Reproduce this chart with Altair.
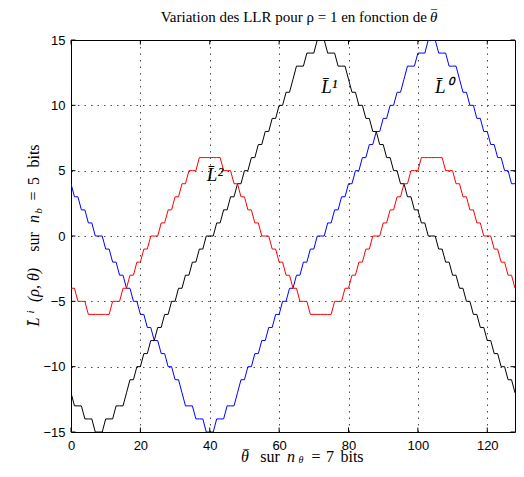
import altair as alt
import pandas as pd

# ---------------- data ----------------
theta = list(range(129))

L0 = [4, 3, 3, 2, 2, 1, 1, 0, 0,
      0, -1, -1, -2, -2, -3, -3, -4, -4, -5, -5, -6, -6, -7, -7, -8, -8, -9, -9, -10, -10,
      -11, -11, -12, -13, -13, -13, -14, -14, -14, -15, -15,
      -15, -14, -14, -14, -13, -13, -13, -12, -11, -11, -10, -10, -9, -9, -8, -8, -7, -7,
      -6, -6, -5, -5, -4, -4, -3, -3, -2, -2, -1, -1, 0, 0,
      0, 1, 1, 2, 2, 3, 3, 4, 4, 5, 5, 6, 6, 7, 7, 8, 8, 9, 9, 10, 10, 11, 11, 12,
      13, 13, 13, 14, 14, 14, 15, 15,
      15, 14, 14, 14, 13, 13, 13, 12, 11, 11, 10, 10, 9, 9, 8, 8, 7, 7, 6, 6, 5, 5, 4, 4]

L1 = [-12, -13, -13, -13, -14, -14, -14, -15, -15,
      -15, -14, -14, -14, -13, -13, -13, -12, -11, -11, -10, -10, -9, -9, -8, -8, -7, -7,
      -6, -6, -5, -5, -4, -4, -3, -3, -2, -2, -1, -1, 0, 0,
      0, 1, 1, 2, 2, 3, 3, 4, 4, 5, 5, 6, 6, 7, 7, 8, 8, 9, 9, 10, 10, 11, 11, 12,
      13, 13, 13, 14, 14, 14, 15, 15,
      15, 14, 14, 14, 13, 13, 13, 12, 11, 11, 10, 10, 9, 9, 8, 8, 7, 7, 6, 6, 5, 5,
      4, 4, 3, 3, 2, 2, 1, 1, 0, 0,
      0, -1, -1, -2, -2, -3, -3, -4, -4, -5, -5, -6, -6, -7, -7, -8, -8, -9, -9,
      -10, -10, -11, -11, -12]

L2 = [-4, -4, -5, -5, -5, -6, -6, -6, -6,
      -6, -6, -6, -5, -5, -5, -4, -4, -3, -3, -2, -2, -1, -1, 0, 0,
      0, 1, 1, 2, 2, 3, 3, 4, 4, 5, 5, 5, 6, 6, 6, 6,
      6, 6, 6, 5, 5, 5, 4, 4, 3, 3, 2, 2, 1, 1, 0, 0,
      0, -1, -1, -2, -2, -3, -3, -4, -4, -5, -5, -5, -6, -6, -6, -6,
      -6, -6, -6, -5, -5, -5, -4, -4, -3, -3, -2, -2, -1, -1, 0, 0,
      0, 1, 1, 2, 2, 3, 3, 4, 4, 5, 5, 5, 6, 6, 6, 6,
      6, 6, 6, 5, 5, 5, 4, 4, 3, 3, 2, 2, 1, 1, 0, 0,
      0, -1, -1, -2, -2, -3, -3, -4]

x_ticks = [0, 20, 40, 60, 80, 100, 120]
y_ticks = [-15, -10, -5, 0, 5, 10, 15]

curve_labels = ["L\u0304\u2070", "L\u0304\u00b9", "L\u0304\u00b2"]
curve_label_theta = [107.5, 74.5, 41.5]
curve_label_value = [11.4, 11.4, 4.7]

# ---------------- layout ----------------
W, H = 444, 392
PAD_L, PAD_T = 63, 32
SERIF = "Liberation Serif"
SANS = "Liberation Sans"

xs = alt.Scale(domain=[0, 128], nice=False, zero=False)
ys = alt.Scale(domain=[-15, 15], nice=False, zero=False)

ax_x = alt.Axis(values=x_ticks, grid=True, gridDash=[1.5, 5], gridColor="#000000",
                gridOpacity=0.7, gridWidth=1, ticks=False, domain=False, title=None,
                labelFont=SANS, labelFontSize=13, labelColor="black", labelPadding=7,
                labelFlush=False)
ax_y = alt.Axis(values=y_ticks, grid=True, gridDash=[1.5, 5], gridColor="#000000",
                gridOpacity=0.7, gridWidth=1, ticks=False, domain=False, title=None,
                labelFont=SANS, labelFontSize=13, labelColor="black", labelPadding=6,
                labelFlush=False)

df = pd.DataFrame({"theta": theta, "L0": L0, "L1": L1, "L2": L2})


def curve(col, color):
    return alt.Chart(df).mark_line(color=color, strokeWidth=1, clip=True).encode(
        x=alt.X("theta:Q", scale=xs, axis=ax_x),
        y=alt.Y(col + ":Q", scale=ys, axis=ax_y),
    )


lines = [curve("L0", "#0000ff"), curve("L1", "#000000"), curve("L2", "#ff0000")]

dxt = pd.DataFrame({"t": x_ticks})
dyt = pd.DataFrame({"t": y_ticks})
TL = 4.5
tick_layers = [
    alt.Chart(dxt).mark_rule(color="black", strokeWidth=1).encode(
        x=alt.X("t:Q", scale=xs, axis=ax_x), y=alt.value(H), y2=alt.value(H - TL)),
    alt.Chart(dxt).mark_rule(color="black", strokeWidth=1).encode(
        x=alt.X("t:Q", scale=xs, axis=ax_x), y=alt.value(0), y2=alt.value(TL)),
    alt.Chart(dyt).mark_rule(color="black", strokeWidth=1).encode(
        y=alt.Y("t:Q", scale=ys, axis=ax_y), x=alt.value(0), x2=alt.value(TL)),
    alt.Chart(dyt).mark_rule(color="black", strokeWidth=1).encode(
        y=alt.Y("t:Q", scale=ys, axis=ax_y), x=alt.value(W), x2=alt.value(W - TL)),
]

dlab = pd.DataFrame({"lab": curve_labels, "x": curve_label_theta, "y": curve_label_value})
labels = alt.Chart(dlab).mark_text(font=SERIF, fontStyle="italic", fontSize=19,
                                   color="black", baseline="middle", align="center").encode(
    x=alt.X("x:Q", scale=xs, axis=ax_x), y=alt.Y("y:Q", scale=ys, axis=ax_y), text="lab:N")


def piece(txt, px, py, size=15, italic=False, angle=0, align="center", baseline="alphabetic"):
    kw = dict(font=SERIF, fontSize=size, color="black", align=align, baseline=baseline)
    if italic:
        kw["fontStyle"] = "italic"
    if angle:
        kw["angle"] = angle
    # px, py are page coordinates; convert to plot coordinates
    return alt.Chart(pd.DataFrame({"t": [txt]})).mark_text(**kw).encode(
        x=alt.value(px - 71), y=alt.value(py - 40), text="t:N")


XT = 462  # baseline of x title
title_layers = [
    piece("Variation des LLR pour \u03c1 = 1 en fonction de", 427, 22, align="right"),
    piece("\u03b8", 430, 22, italic=True, align="left"),
    piece("\u00af", 434, 19, size=12),
    # x title
    piece("\u03b8", 245, XT, size=16, italic=True),
    piece("\u00af", 246, XT - 3, size=12),
    piece("sur", 270, XT, size=16),
    piece("n", 291, XT, size=16, italic=True),
    piece("\u03b8", 301, XT + 1, size=10, italic=True),
    piece("=", 316, XT, size=16),
    piece("7", 330, XT, size=16),
    piece("bits", 352, XT, size=16),
    # y title (rotated)
    piece("L\u0304", 39, 322, size=16, italic=True, angle=270),
    piece("i", 34, 312, size=11, italic=True, angle=270),
    piece("(\u03c1, \u03b8)", 39, 285, size=16, italic=True, angle=270),
    piece("sur", 39, 242, size=16, angle=270),
    piece("n", 39, 219, size=16, italic=True, angle=270),
    piece("b", 42, 211, size=11, italic=True, angle=270),
    piece("=", 39, 196, size=16, angle=270),
    piece("5", 39, 181, size=16, angle=270),
    piece("bits", 39, 156, size=16, angle=270),
]

chart = alt.layer(*lines, *tick_layers, labels, *title_layers).properties(
    width=W, height=H,
    autosize=alt.AutoSizeParams(type="none"),
    padding={"left": PAD_L, "top": PAD_T, "right": 1, "bottom": 32},
    background="white",
).configure_view(stroke="black", strokeWidth=1)

chart.save("out.html", embed_options={"renderer": "svg", "actions": False})
